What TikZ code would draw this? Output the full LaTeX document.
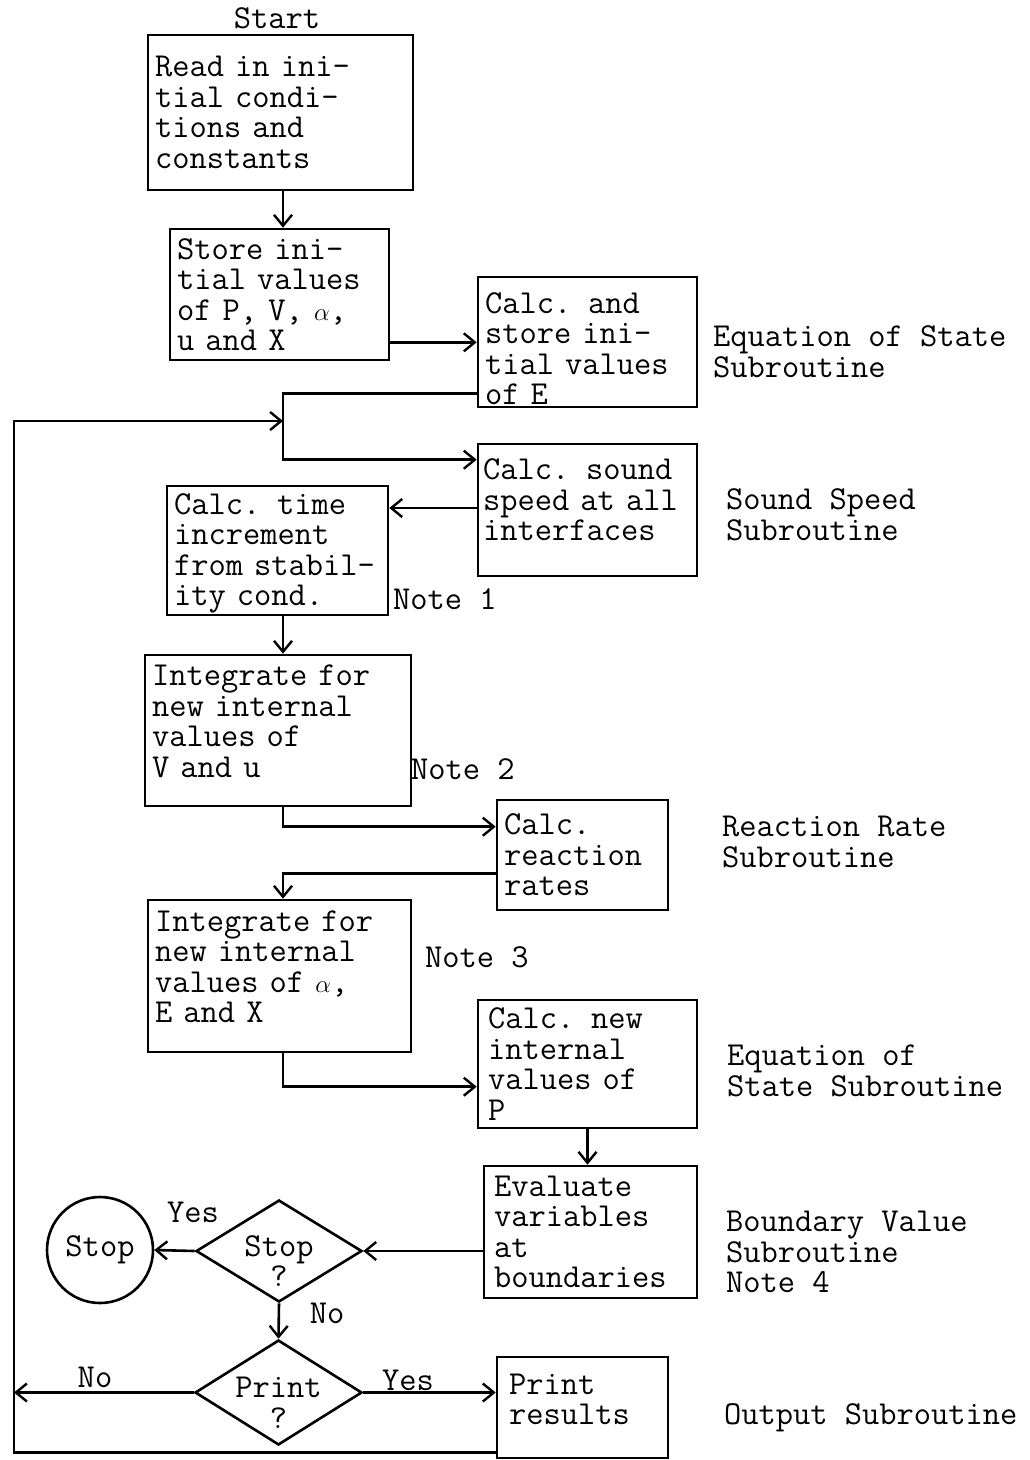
\documentclass[tikz,border=0pt]{standalone}
\usepackage{fontspec}
\usetikzlibrary{shapes.geometric,arrows.meta,calc}
\begin{document}
\begin{tikzpicture}[x=1pt,y=-1pt,
  every node/.style={font={\ttfamily\fontsize{33.5}{30.5}\selectfont}},
  box/.style={draw, line width=2.6pt, inner xsep=7pt, inner ysep=3pt, align=left},
  lab/.style={inner sep=0pt, anchor=west, align=left},
  tag/.style={inner sep=0pt},
  diam/.style={draw, diamond, line width=2.6pt, inner sep=0pt},
  arr/.style={line width=2.6pt, -{Straight Barb[length=11pt,width=18pt,line width=2.4pt]}},
  ln/.style={line width=2.6pt}
]
\useasboundingbox (0,0) rectangle (1030,1460);

\node[tag] (start) at (277,18) {Start};
\node[box, text width=251pt, minimum height=155pt] (b1) at (280.5,112.5) {Read in ini-\\tial condi-\\tions and\\constants};
\node[box, text width=205pt, minimum height=131pt] (b2) at (279.5,294.5) {Store ini-\\tial values\\of P, V, $\alpha$,\\u and X};
\node[box, inner ysep=0pt, text width=205pt, minimum height=130pt] (b3) at (587.5,342) {\mbox{}\\[4pt]Calc. and\\store ini-\\tial values\\of E};
\node[box, inner xsep=5pt, text width=209pt, minimum height=132pt] (b4) at (587.5,510) {Calc. sound\\speed at all\\interfaces\\[-10pt]\mbox{}};
\node[box, inner ysep=0pt, text width=207pt, minimum height=129pt] (b5) at (277.5,550.5) {\mbox{}\\[-4pt]Calc. time\\increment\\from stabil-\\ity cond.};
\node[box, text width=252pt, minimum height=151pt] (b6) at (278,730.5) {Integrate for\\new internal\\values of\\V and u\\[-12pt]\mbox{}};
\node[box, text width=157pt, minimum height=110pt] (b7) at (582.5,855) {Calc.\\reaction\\rates};
\node[box, text width=249pt, minimum height=152pt] (b8) at (279.5,976) {Integrate for\\new internal\\values of $\alpha$,\\E and X\\[-12pt]\mbox{}};
\node[box, inner xsep=10pt, text width=199pt, minimum height=128pt] (b9) at (587.5,1064) {Calc. new\\internal\\values of\\P};
\node[box, inner xsep=10pt, text width=193pt, minimum height=132pt] (b10) at (590.5,1232) {Evaluate\\variables\\at\\boundaries};
\node[box, inner xsep=12pt, text width=147pt, minimum height=101pt] (b11) at (582.5,1407.5) {Print\\results\\[-14pt]\mbox{}};

\node[diam, minimum width=166pt, minimum height=102pt, label={[align=center, yshift=-10pt]center:Stop\\?}] (d1) at (279,1251) {};
\node[diam, minimum width=167pt, minimum height=105pt, label={[align=center, yshift=-10pt]center:Print\\?}] (d2) at (278.5,1392.5) {};
\node[draw, circle, line width=2.6pt, minimum size=106pt, inner sep=0pt] (stop) at (100,1250) {Stop};

% side labels
\node[lab] (l3) at (713,352) {Equation of State\\Subroutine};
\node[lab] (l4) at (726,515) {Sound Speed\\Subroutine};
\node[lab] (l7) at (722,842) {Reaction Rate\\Subroutine};
\node[lab] (l9) at (727,1071) {Equation of\\State Subroutine};
\node[lab] (l10) at (726,1252) {Boundary Value\\Subroutine\\Note 4};
\node[lab] (l11) at (724,1418) {Output Subroutine};
\node[lab] (n1) at (393,599) {Note 1};
\node[lab] (n2) at (411,769) {Note 2};
\node[lab] (n3) at (425,957) {Note 3};
\node[tag] (yes1) at (193,1212) {Yes};
\node[tag] (no1) at (327,1313) {No};
\node[tag] (yes2) at (408,1380) {Yes};
\node[tag] (no2) at (95,1377) {No};

% junctions
\coordinate (j1) at (283,421);
\coordinate (loopc) at (14,421);

% connectors
\draw[arr] (b1.south -| j1) -- (b2.north -| j1);
\draw[arr] ([yshift=19pt]b2.south east) -- ([yshift=19pt]b2.south east -| b3.west);
\draw[ln] ([yshift=15pt]b3.south west) -| (j1);
\draw[arr] (j1) |- ([yshift=-17pt]b4.north west);
\draw[arr] ([yshift=2pt]b4.west) -- ([yshift=2pt]b4.west -| b5.east);
\draw[arr] (b5.south -| j1) -- (b6.north -| j1);
\draw[arr] (b6.south -| j1) |- ([yshift=-28pt]b7.north west);
\draw[arr] ([yshift=38pt]b7.south west) -| (b8.north -| j1);
\draw[arr] (b8.south -| j1) |- ([yshift=-88pt]b9.north west);
\draw[arr] (b9.south) -- (b9.south |- b10.north);
\draw[arr] (b10.west |- d1.east) -- (d1.east);
\draw[arr] (d1.west) -- (stop.east);
\draw[arr] (d1.south) -- (d2.north);
\draw[arr] (d2.east) -- (d2.east -| b11.west);
\draw[arr] (d2.west) -- (d2.west -| loopc);
\draw[arr] ([yshift=7pt]b11.south west) -| (loopc) -- (j1);
\end{tikzpicture}
\end{document}
